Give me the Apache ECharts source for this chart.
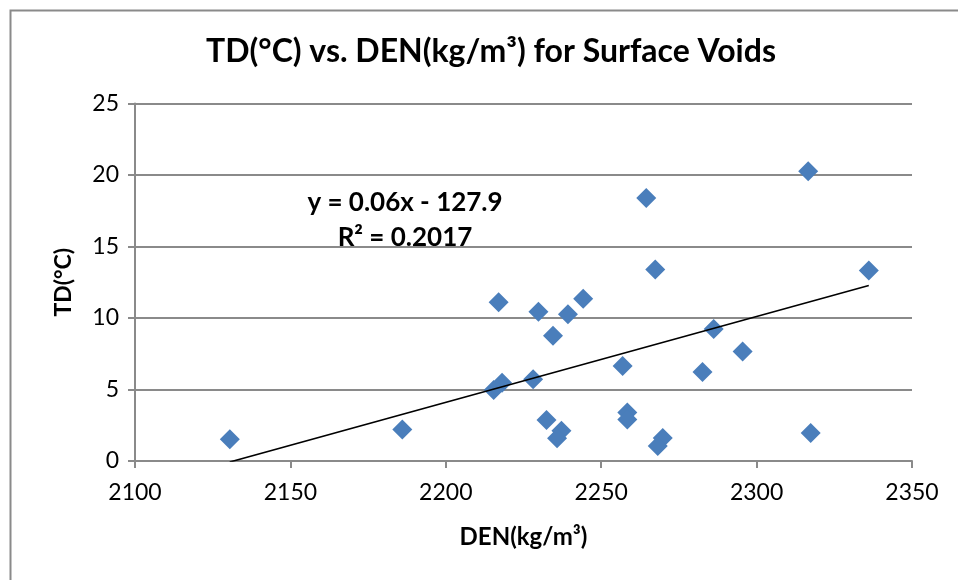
<!DOCTYPE html>
<html>
<head>
<meta charset="utf-8">
<script src="https://cdn.jsdelivr.net/npm/echarts@6/dist/echarts.min.js"></script>
<style>
  html, body { margin: 0; padding: 0; background: #fff; }
  #chart { width: 958px; height: 580px; }
</style>
</head>
<body>
<div id="chart"></div>
<script>
// density (kg/m3) and temperature difference (°C) for each surface void
const den = [2130.5, 2186.0, 2217.0, 2229.8, 2215.4, 2218.1, 2228.1, 2234.5, 2239.3,
  2244.2, 2267.4, 2264.5, 2316.6, 2336.1, 2286.2, 2295.5, 2282.6, 2256.9, 2232.4,
  2237.2, 2235.8, 2258.4, 2258.4, 2269.8, 2268.2, 2317.4];
const td = [1.52, 2.2, 11.1, 10.44, 4.97, 5.48, 5.71, 8.76, 10.26,
  11.35, 13.4, 18.4, 20.26, 13.33, 9.23, 7.65, 6.22, 6.64, 2.87,
  2.12, 1.59, 3.4, 2.9, 1.6, 1.05, 1.96];
const xTicks = [2100, 2150, 2200, 2250, 2300, 2350];
const yTicks = [0, 5, 10, 15, 20, 25];
// linear trendline as printed on the chart
const trendSlope = 0.06;
const trendIntercept = -127.9;
const eqText = "y = 0.06x - 127.9";
const r2Text = "R² = 0.2017";

const xMin = Math.min(...den), xMax = Math.max(...den);
const trend = [xMin, xMax].map(x => [x, trendSlope * x + trendIntercept]);
const points = den.map((x, i) => [x, td[i]]);

const chart = echarts.init(document.getElementById("chart"));
const font = "Lato";
const gridCol = "#8a8a8a";

chart.setOption({
  animation: false,
  textStyle: { fontFamily: font },
  title: {
    text: "TD(°C) vs. DEN(kg/m³) for Surface Voids",
    left: 486, top: 31, textAlign: "center",
    textStyle: { fontFamily: font, fontSize: 32, fontWeight: "bold", color: "#000" }
  },
  grid: { left: 135, right: 46, top: 103.5, bottom: 119 },
  xAxis: {
    type: "value",
    min: xTicks[0], max: xTicks[xTicks.length - 1], interval: 50,
    name: "DEN(kg/m³)", nameLocation: "middle", nameGap: 64,
    nameTextStyle: { fontFamily: font, fontSize: 24, fontWeight: "bold", color: "#000" },
    axisLine: { lineStyle: { color: gridCol, width: 2 } },
    axisTick: { show: true, length: 7, lineStyle: { color: gridCol, width: 2 } },
    axisLabel: { fontSize: 23, color: "#000", margin: 20, formatter: v => String(v) },
    splitLine: { show: false }
  },
  yAxis: {
    type: "value",
    min: yTicks[0], max: yTicks[yTicks.length - 1], interval: 5,
    name: "TD(°C)", nameLocation: "middle", nameGap: 60,
    nameTextStyle: { fontFamily: font, fontSize: 23, fontWeight: "bold", color: "#000" },
    axisLine: { show: true, lineStyle: { color: gridCol, width: 2 } },
    axisTick: { show: true, length: 7, lineStyle: { color: gridCol, width: 2 } },
    axisLabel: { fontSize: 23, color: "#000", margin: 16, formatter: v => String(v) },
    splitLine: { show: true, lineStyle: { color: gridCol, width: 2 } }
  },
  series: [
    {
      type: "scatter",
      data: points,
      symbol: "diamond",
      symbolSize: 20,
      itemStyle: { color: "#4a7ebb", opacity: 1 },
      z: 3
    },
    {
      type: "line",
      data: trend,
      symbol: "none",
      lineStyle: { color: "#000", width: 1.6 },
      z: 4
    }
  ],
  graphic: [
    {
      type: "rect", left: 8, top: 8, silent: true,
      shape: { width: 1000, height: 640 },
      style: { fill: null, stroke: "#8a8a8a", lineWidth: 2 }
    },
    {
      type: "text", x: 405, y: 203, silent: true,
      style: { text: eqText, font: "bold 26px Lato", fill: "#000", align: "center", verticalAlign: "middle" }
    },
    {
      type: "text", x: 405, y: 238, silent: true,
      style: { text: r2Text, font: "bold 26px Lato", fill: "#000", align: "center", verticalAlign: "middle" }
    }
  ]
});
</script>
</body>
</html>
